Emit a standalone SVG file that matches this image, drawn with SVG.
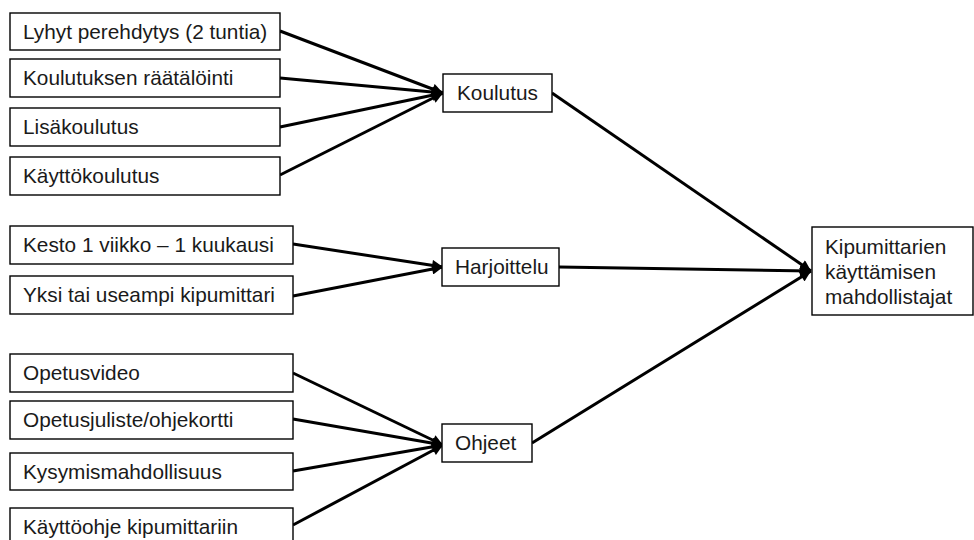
<svg xmlns="http://www.w3.org/2000/svg" width="974" height="540" viewBox="0 0 974 540">
  <style>
    .box { fill: #ffffff; stroke: #000000; stroke-width: 1.4; }
    .lbl { font-family: "Liberation Sans", Arial, sans-serif; font-size: 20.8px; fill: #1a1a1a; }
    .edge { fill: none; stroke: #000000; stroke-width: 3; }
  </style>
  <defs>
    <marker id="arrow" viewBox="0 0 10 10" refX="10" refY="5" markerWidth="12" markerHeight="11" markerUnits="userSpaceOnUse" orient="auto">
      <path d="M0,0 L10,5 L0,10 z" fill="#000000"/>
    </marker>
  </defs>
  <rect width="974" height="540" fill="#ffffff"/>

  <!-- connectors -->
  <g id="connectors">
    <line class="edge" x1="280" y1="31" x2="443" y2="93" marker-end="url(#arrow)"/>
    <line class="edge" x1="280" y1="78" x2="443" y2="93" marker-end="url(#arrow)"/>
    <line class="edge" x1="280" y1="127" x2="443" y2="93" marker-end="url(#arrow)"/>
    <line class="edge" x1="280" y1="175" x2="443" y2="93" marker-end="url(#arrow)"/>

    <line class="edge" x1="293" y1="244" x2="443" y2="267" marker-end="url(#arrow)"/>
    <line class="edge" x1="293" y1="296" x2="443" y2="267" marker-end="url(#arrow)"/>

    <line class="edge" x1="293" y1="373" x2="443" y2="445" marker-end="url(#arrow)"/>
    <line class="edge" x1="293" y1="419" x2="443" y2="445" marker-end="url(#arrow)"/>
    <line class="edge" x1="293" y1="471" x2="443" y2="445" marker-end="url(#arrow)"/>
    <line class="edge" x1="293" y1="525" x2="443" y2="445" marker-end="url(#arrow)"/>

    <line class="edge" x1="552" y1="93" x2="811" y2="271" marker-end="url(#arrow)"/>
    <line class="edge" x1="559" y1="267" x2="811" y2="271" marker-end="url(#arrow)"/>
    <line class="edge" x1="532" y1="443" x2="811" y2="271" marker-end="url(#arrow)"/>
  </g>

  <!-- training inputs -->
  <g id="lyhyt-perehdytys">
    <rect class="box" x="10" y="13" width="270" height="37"/>
    <text class="lbl" x="23" y="39">Lyhyt perehdytys (2 tuntia)</text>
  </g>
  <g id="koulutuksen-raatalointi">
    <rect class="box" x="10" y="59" width="270" height="38"/>
    <text class="lbl" x="23" y="85">Koulutuksen räätälöinti</text>
  </g>
  <g id="lisakoulutus">
    <rect class="box" x="10" y="108" width="270" height="38"/>
    <text class="lbl" x="23" y="134">Lisäkoulutus</text>
  </g>
  <g id="kayttokoulutus">
    <rect class="box" x="10" y="157" width="270" height="38"/>
    <text class="lbl" x="23" y="183">Käyttökoulutus</text>
  </g>

  <!-- practice inputs -->
  <g id="kesto">
    <rect class="box" x="10" y="226" width="283" height="38"/>
    <text class="lbl" x="23" y="252">Kesto 1 viikko – 1 kuukausi</text>
  </g>
  <g id="yksi-tai-useampi">
    <rect class="box" x="10" y="276" width="283" height="38"/>
    <text class="lbl" x="23" y="302">Yksi tai useampi kipumittari</text>
  </g>

  <!-- instruction inputs -->
  <g id="opetusvideo">
    <rect class="box" x="10" y="354" width="283" height="38"/>
    <text class="lbl" x="23" y="380">Opetusvideo</text>
  </g>
  <g id="opetusjuliste">
    <rect class="box" x="10" y="401" width="283" height="38"/>
    <text class="lbl" x="23" y="427">Opetusjuliste/ohjekortti</text>
  </g>
  <g id="kysymismahdollisuus">
    <rect class="box" x="10" y="453" width="283" height="37"/>
    <text class="lbl" x="23" y="479">Kysymismahdollisuus</text>
  </g>
  <g id="kayttoohje">
    <rect class="box" x="10" y="508" width="283" height="38"/>
    <text class="lbl" x="23" y="534">Käyttöohje kipumittariin</text>
  </g>

  <!-- middle categories -->
  <g id="koulutus">
    <rect class="box" x="443" y="74" width="109" height="38"/>
    <text class="lbl" x="457" y="100">Koulutus</text>
  </g>
  <g id="harjoittelu">
    <rect class="box" x="442" y="248" width="117" height="38"/>
    <text class="lbl" x="455" y="274">Harjoittelu</text>
  </g>
  <g id="ohjeet">
    <rect class="box" x="442" y="424" width="90" height="38"/>
    <text class="lbl" x="455" y="450">Ohjeet</text>
  </g>

  <!-- outcome -->
  <g id="mahdollistajat">
    <rect class="box" x="812" y="227" width="161" height="88"/>
    <text class="lbl" x="825" y="254">Kipumittarien</text>
    <text class="lbl" x="825" y="279">käyttämisen</text>
    <text class="lbl" x="825" y="304">mahdollistajat</text>
  </g>
</svg>
